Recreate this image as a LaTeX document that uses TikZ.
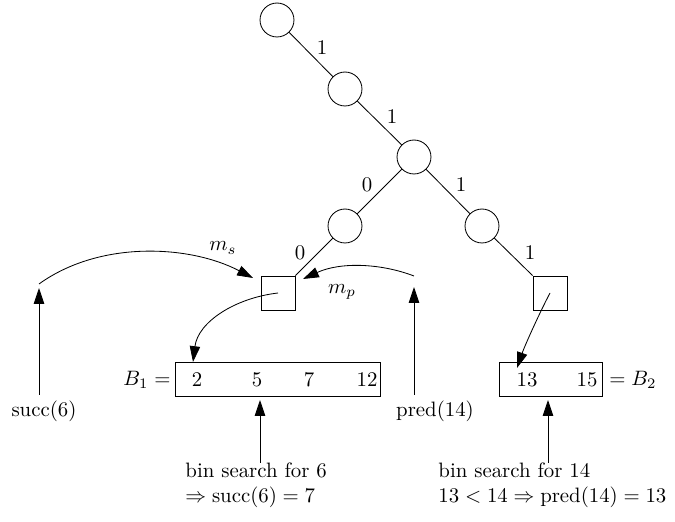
\documentclass[tikz,border=0pt]{standalone}
\usetikzlibrary{arrows.meta}
\begin{document}
\begin{tikzpicture}[x=0.48pt,y=-0.48pt,
  vtx/.style={circle,draw,minimum size=16.3pt,inner sep=0pt},
  leaf/.style={rectangle,draw,minimum size=16.3pt,inner sep=0pt},
  txt/.style={inner sep=0pt},
  arr/.style={-{Triangle[length=7.6pt,width=5pt]}}]
\useasboundingbox (0,0) rectangle (675,522);
% trie
\node[vtx] (c1) at (277,20) {};
\node[vtx] (c2) at (345,89) {};
\node[vtx] (c3) at (414,157) {};
\node[vtx] (c4) at (345,226) {};
\node[vtx] (c5) at (482,226) {};
\node[leaf] (sqL) at (278,293) {};
\node[leaf] (sqR) at (550,293) {};
\draw (c1) -- (c2);
\draw (c2) -- (c3);
\draw (c3) -- (c4);
\draw (c3) -- (c5);
\draw (c4) -- (sqL.north east);
\draw (c5) -- (sqR.north west);
\node[txt] (l1) at (322,48) {1};
\node[txt] (l2) at (392,117) {1};
\node[txt] (l3) at (367,185) {0};
\node[txt] (l4) at (461,185) {1};
\node[txt] (l5) at (300,253) {0};
\node[txt] (l6) at (530,253) {1};
% buckets
\node[draw,minimum width=98.4pt,minimum height=16.32pt,inner sep=0pt] (B1) at (277.5,379) {};
\node[draw,minimum width=49.44pt,minimum height=16.32pt,inner sep=0pt] (B2) at (550.5,379) {};
\node[txt,anchor=east] (B1lab) at (171,380) {$B_1 =$};
\node[txt,anchor=west] (B2lab) at (609,380) {$= B_2$};
\node[txt] (e2) at (197,380) {2};
\node[txt] (e5) at (257,380) {5};
\node[txt] (e7) at (309,380) {7};
\node[txt] (e12) at (367,380) {12};
\node[txt] (e13) at (527,380) {13};
\node[txt] (e15) at (587,380) {15};
% queries
\node[txt] (succ) at (44,411) {succ(6)};
\node[txt] (pred) at (435,411) {pred(14)};
\coordinate (sTail) at (39,395);
\coordinate (sTip) at (39,288);
\coordinate (pTail) at (414,395);
\coordinate (pTip) at (414,287);
\draw[arr] (sTail) -- (sTip);
\draw[arr] (pTail) -- (pTip);
\coordinate (sA) at (39,284);
\coordinate (sB) at (253,278);
\draw[arr] (sA) .. controls (100,240) and (190,245) .. (sB);
\node[txt] (ms) at (223,248) {$m_s$};
\coordinate (pA) at (414,276);
\coordinate (pB) at (303,279);
\draw[arr] (pA) .. controls (380,263) and (340,262) .. (pB);
\node[txt] (mp) at (342,292) {$m_p$};
\coordinate (b1tip) at (193,362);
\coordinate (b2tip) at (517,368);
\draw[arr] (sqL.center) .. controls (235,298) and (198,322) .. (b1tip);
\draw[arr] (sqR.center) .. controls (540,312) and (525,345) .. (b2tip);
% binary searches
\coordinate (bsLtail) at (260,463);
\coordinate (bsLtip) at (260,400);
\coordinate (bsRtail) at (548,463);
\coordinate (bsRtip) at (548,400);
\draw[arr] (bsLtail) -- (bsLtip);
\draw[arr] (bsRtail) -- (bsRtip);
\node[txt,anchor=base west] (bsL1) at (185,478) {bin search for 6};
\node[txt,anchor=base west] (bsL2) at (185,503) {$\Rightarrow \mathrm{succ}(6) = 7$};
\node[txt,anchor=base west] (bsR1) at (438,478) {bin search for 14};
\node[txt,anchor=base west] (bsR2) at (438,503) {$13 < 14 \Rightarrow \mathrm{pred}(14) = 13$};
\end{tikzpicture}
\end{document}
